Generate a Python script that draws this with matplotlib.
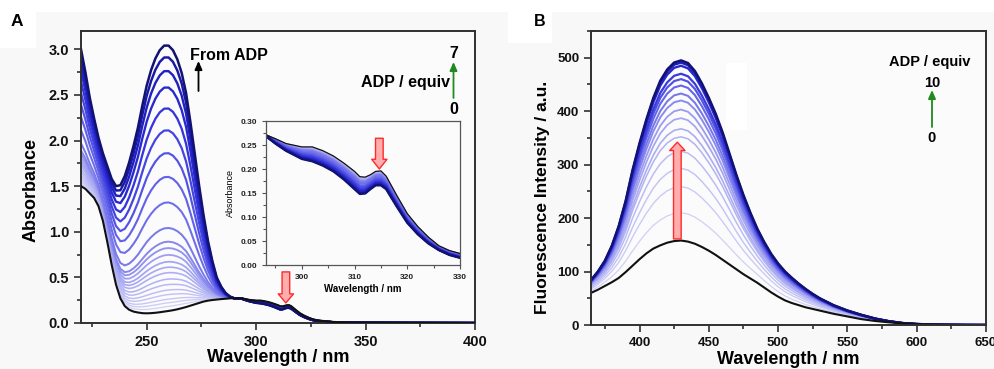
import matplotlib
matplotlib.use('Agg')
import matplotlib.pyplot as plt
import numpy as np
from matplotlib.colors import LinearSegmentedColormap
from matplotlib.ticker import MultipleLocator
import matplotlib.patches as mpatches

plt.rcParams['font.family'] = ['Liberation Sans', 'DejaVu Sans']
plt.rcParams['font.weight'] = 'bold'

# ---------------- Data ----------------
# Panel A: UV-vis absorbance, 0 equiv (black) and 7 equiv ADP (darkest)
wl_abs = [220, 222, 224, 226, 228, 230, 232, 234, 236, 238, 240, 242, 244, 246, 248,
          250, 252, 254, 256, 258, 260, 262, 264, 266, 268, 270, 272, 274, 276, 278,
          280, 282, 284, 286, 288, 290, 293, 295, 297, 300, 302, 304, 306, 308, 310,
          311, 312, 313, 314, 315, 316, 318, 320, 322, 324, 326, 328, 330, 335, 340,
          350, 370, 400]
abs_0eq = [1.50, 1.47, 1.42, 1.37, 1.28, 1.12, 0.89, 0.64, 0.42, 0.27, 0.185, 0.145, 0.125, 0.115, 0.108,
           0.106, 0.108, 0.112, 0.118, 0.125, 0.132, 0.140, 0.150, 0.162, 0.175, 0.190, 0.205, 0.220, 0.235, 0.245,
           0.252, 0.257, 0.262, 0.266, 0.270, 0.273, 0.272, 0.263, 0.253, 0.246, 0.246, 0.238, 0.227, 0.212, 0.195,
           0.184, 0.183, 0.188, 0.195, 0.196, 0.185, 0.145, 0.107, 0.080, 0.058, 0.040, 0.030, 0.024, 0.012, 0.007,
           0.004, 0.002, 0.000]
abs_7eq = [3.00, 2.75, 2.47, 2.24, 2.03, 1.86, 1.72, 1.58, 1.50, 1.51, 1.61, 1.76, 1.94, 2.14, 2.38,
           2.60, 2.77, 2.90, 2.99, 3.04, 3.04, 2.99, 2.89, 2.74, 2.52, 2.20, 1.85, 1.50, 1.18, 0.90,
           0.68, 0.50, 0.40, 0.33, 0.29, 0.27, 0.270, 0.253, 0.238, 0.221, 0.216, 0.207, 0.195, 0.178, 0.158,
           0.148, 0.149, 0.158, 0.166, 0.166, 0.158, 0.122, 0.088, 0.064, 0.045, 0.031, 0.021, 0.015, 0.008, 0.005,
           0.003, 0.001, 0.000]
# peak absorbance (~259 nm) of every titration spectrum, black curve first
abs_peak_levels = [0.13, 0.18, 0.22, 0.26, 0.31, 0.36, 0.42, 0.48, 0.55, 0.61, 0.67, 0.745,
                   0.82, 0.89, 1.04, 1.32, 1.60, 1.86, 2.11, 2.35, 2.58, 2.76, 2.91, 3.04]

# Panel B: fluorescence, 0 equiv (black) and 10 equiv ADP (darkest)
wl_fl = [365, 370, 375, 380, 385, 390, 395, 400, 405, 410, 415, 420, 425, 430, 435, 440,
         445, 450, 455, 460, 465, 470, 475, 480, 485, 490, 495, 500, 505, 510, 515, 520,
         525, 530, 540, 550, 560, 570, 580, 590, 600, 610, 620, 635, 650]
fl_0eq = [60, 66, 73, 80, 88, 99, 111, 123, 134, 143, 149, 154, 157, 158, 156, 152,
          146, 139, 131, 122, 113, 104, 95, 87, 79, 70, 61, 53, 46, 41, 37, 33,
          30, 27, 21, 16, 11, 7.5, 5, 3, 1.5, 0.7, 0.3, 0.1, 0]
fl_10eq = [84, 100, 120, 148, 185, 232, 290, 340, 385, 425, 457, 478, 491, 495, 490, 475,
           452, 425, 395, 360, 320, 280, 243, 210, 180, 155, 133, 115, 100, 88, 77, 67,
           58, 50, 37, 27, 19, 12, 7, 3.5, 1.8, 0.9, 0.4, 0.1, 0]
# peak intensity (~430 nm) of every titration spectrum, black curve first
fl_peak_levels = [158, 210, 259, 293, 325, 352, 367, 387, 403, 420, 433, 448, 460, 470, 485, 491, 495]

# ---------------- Figure ----------------
W, H = 994, 369
fig = plt.figure(figsize=(W / 100, H / 100), dpi=100)
fig.patch.set_facecolor('#f8f8f8')


def box(l, t, r, b):
    return [l / W, 1 - b / H, (r - l) / W, (b - t) / H]


def fp(x, y):
    return (x / W, 1 - y / H)


cmap = LinearSegmentedColormap.from_list(
    'titr', [(0.0, '#d0d0f7'), (0.45, '#a0a0f2'), (0.7, '#5c5ce8'),
             (0.85, '#2b2bd6'), (0.95, '#1a1ab0'), (1.0, '#121272')])

SP = '#303030'


def style(ax, fs):
    for s in ax.spines.values():
        s.set_linewidth(1.4)
        s.set_color(SP)
    ax.tick_params(which='both', direction='out', top=False, right=False, colors=SP,
                   labelcolor='#111111', labelsize=fs, width=1.2)
    ax.tick_params(which='major', length=5)
    ax.tick_params(which='minor', length=3)
    for lab in ax.get_xticklabels() + ax.get_yticklabels():
        lab.set_fontweight('bold')


def family(base, final, peaks):
    base = np.asarray(base, float)
    final = np.asarray(final, float)
    p0, p1 = peaks[0], peaks[-1]
    out = []
    for p in peaks[1:]:
        f = (p - p0) / (p1 - p0)
        out.append(base + f * (final - base))
    return out


# white patches behind labels (as in the reference image)
for (l, t, r, b) in [(0, 0, W, 12), (0, 12, 36, 48), (508, 12, 552, 43)]:
    fig.patches.append(mpatches.Rectangle(fp(l, b), (r - l) / W, (b - t) / H,
                                          transform=fig.transFigure, fc='white', ec='none', zorder=0))

# ---------------- Panel A ----------------
axA = fig.add_axes(box(81, 31, 475, 323))
axA.set_facecolor('#fbfbfb')
curvesA = family(abs_0eq, abs_7eq, abs_peak_levels)
n = len(curvesA)
for i, c in enumerate(curvesA):
    t = i / (n - 1)
    axA.plot(wl_abs, c, color=cmap(t), lw=0.9 + 0.9 * t, zorder=2 + i * 0.01)
axA.plot(wl_abs, abs_0eq, color='#111111', lw=1.5, zorder=3)
axA.set_xlim(220, 400)
axA.set_ylim(0, 3.2)
axA.xaxis.set_major_locator(MultipleLocator(50))
axA.xaxis.set_minor_locator(MultipleLocator(25))
axA.yaxis.set_major_locator(MultipleLocator(0.5))
axA.yaxis.set_minor_locator(MultipleLocator(0.25))
axA.set_xticks([250, 300, 350, 400])
axA.yaxis.set_major_formatter(matplotlib.ticker.FormatStrFormatter('%.1f'))
style(axA, 10.5)
axA.set_xlabel('Wavelength / nm', fontsize=13, fontweight='bold')
axA.xaxis.set_label_coords(0.5, -(358 - 323) / 292)
axA.xaxis.label.set_va('center')
axA.set_ylabel('Absorbance', fontsize=13, fontweight='bold')
axA.yaxis.set_label_coords(-(81 - 31) / 394, (323 - 190) / 292)
axA.yaxis.label.set_va('center')

axA.annotate('', xy=(313.6, 0.22), xytext=(313.6, 0.56),
             arrowprops=dict(arrowstyle='simple,head_length=0.65,head_width=1.1,tail_width=0.55',
                             fc='#ffadad', ec='#ff2a2a', lw=1.0, mutation_scale=10,
                             shrinkA=0, shrinkB=0), zorder=6)

# labels in panel A
fig.text(*fp(17, 21), 'A', fontsize=12.5, fontweight='bold', ha='center', va='center')
fig.text(*fp(190, 55), 'From ADP', fontsize=11.5, fontweight='bold', ha='left', va='center')
fig.add_artist(mpatches.FancyArrowPatch(fp(198.5, 91), fp(198.5, 61), transform=fig.transFigure,
                                        arrowstyle='-|>,head_length=0.5,head_width=0.22',
                                        mutation_scale=10, color='black', lw=1.3, shrinkA=0, shrinkB=0))
fig.text(*fp(454, 53), '7', fontsize=11.5, fontweight='bold', ha='center', va='center')
fig.text(*fp(450, 82), 'ADP / equiv', fontsize=11.5, fontweight='bold', ha='right', va='center')
fig.text(*fp(454, 110), '0', fontsize=11.5, fontweight='bold', ha='center', va='center')
fig.add_artist(mpatches.FancyArrowPatch(fp(453.5, 98), fp(453.5, 62), transform=fig.transFigure,
                                        arrowstyle='-|>,head_length=0.5,head_width=0.22',
                                        mutation_scale=10, color='#1f8a1f', lw=1.3, shrinkA=0, shrinkB=0))

# inset
axI = fig.add_axes(box(266, 121, 460, 265))
axI.set_facecolor('#fbfbfb')
for i, c in enumerate(curvesA):
    t = i / (n - 1)
    axI.plot(wl_abs, c, color=cmap(t), lw=0.8 + 0.9 * t)
axI.plot(wl_abs, abs_0eq, color='#111111', lw=0.9)
axI.set_xlim(293.2, 330)
axI.set_ylim(0, 0.30)
axI.xaxis.set_major_locator(MultipleLocator(10))
axI.xaxis.set_minor_locator(MultipleLocator(5))
axI.yaxis.set_major_locator(MultipleLocator(0.05))
axI.yaxis.set_minor_locator(MultipleLocator(0.025))
axI.yaxis.set_major_formatter(matplotlib.ticker.FormatStrFormatter('%.2f'))
for s in axI.spines.values():
    s.set_linewidth(0.9)
    s.set_color('#555555')
axI.tick_params(which='both', direction='out', top=False, right=False, colors='#555555',
                labelcolor='#222222', labelsize=6, width=0.8)
axI.tick_params(which='major', length=3)
axI.tick_params(which='minor', length=2)
for lab in axI.get_xticklabels() + axI.get_yticklabels():
    lab.set_fontweight('bold')
axI.set_xlabel('Wavelength / nm', fontsize=7, fontweight='bold', labelpad=2)
axI.set_ylabel('Absorbance', fontsize=6.5, fontweight='normal', labelpad=4)
axI.annotate('', xy=(314.7, 0.200), xytext=(314.7, 0.264),
             arrowprops=dict(arrowstyle='simple,head_length=0.7,head_width=1.1,tail_width=0.55',
                             fc='#ffadad', ec='#ff2a2a', lw=1.0, mutation_scale=10,
                             shrinkA=0, shrinkB=0), zorder=6)

# ---------------- Panel B ----------------
axB = fig.add_axes(box(591, 31, 986, 325))
axB.set_facecolor('#fbfbfb')
curvesB = family(fl_0eq, fl_10eq, fl_peak_levels)
m = len(curvesB)
for i, c in enumerate(curvesB):
    t = i / (m - 1)
    axB.plot(wl_fl, c, color=cmap(t), lw=0.9 + 0.9 * t)
axB.plot(wl_fl, fl_0eq, color='#111111', lw=1.5)
axB.set_xlim(365, 650)
axB.set_ylim(0, 550)
axB.set_xticks([400, 450, 500, 550, 600, 650])
axB.xaxis.set_minor_locator(MultipleLocator(25))
axB.set_yticks([0, 100, 200, 300, 400, 500])
axB.yaxis.set_minor_locator(MultipleLocator(50))
style(axB, 9.5)
axB.set_xlabel('Wavelength / nm', fontsize=13, fontweight='bold')
axB.xaxis.set_label_coords(0.5, -(360 - 325) / 294)
axB.xaxis.label.set_va('center')
axB.set_ylabel('Fluorescence Intensity / a.u.', fontsize=12.5, fontweight='bold')
axB.yaxis.set_label_coords(-(591 - 543) / 395, (325 - 197) / 294)
axB.yaxis.label.set_va('center')

# white box artifact in the reference
axB.add_patch(mpatches.Rectangle(((726 - 591) / 395, (325 - 130) / 294), 21 / 395, 67 / 294,
                                 transform=axB.transAxes, fc='white', ec='none', zorder=1))

axB.annotate('', xy=(427.3, 342), xytext=(427.3, 161),
             arrowprops=dict(arrowstyle='simple,head_length=0.6,head_width=1.1,tail_width=0.55',
                             fc='#ffadad', ec='#ff2a2a', lw=1.0, mutation_scale=10,
                             shrinkA=0, shrinkB=0), zorder=6)

fig.text(*fp(540, 22), 'B', fontsize=11.5, fontweight='bold', ha='center', va='center')
fig.text(*fp(930, 62), 'ADP / equiv', fontsize=10.5, fontweight='bold', ha='center', va='center')
fig.text(*fp(932, 83), '10', fontsize=10.5, fontweight='bold', ha='center', va='center')
fig.text(*fp(932, 138), '0', fontsize=10.5, fontweight='bold', ha='center', va='center')
fig.add_artist(mpatches.FancyArrowPatch(fp(932, 127), fp(932, 90), transform=fig.transFigure,
                                        arrowstyle='-|>,head_length=0.5,head_width=0.22',
                                        mutation_scale=10, color='#1f8a1f', lw=1.3, shrinkA=0, shrinkB=0))

fig.savefig('out.png', dpi=100, facecolor=fig.get_facecolor())
